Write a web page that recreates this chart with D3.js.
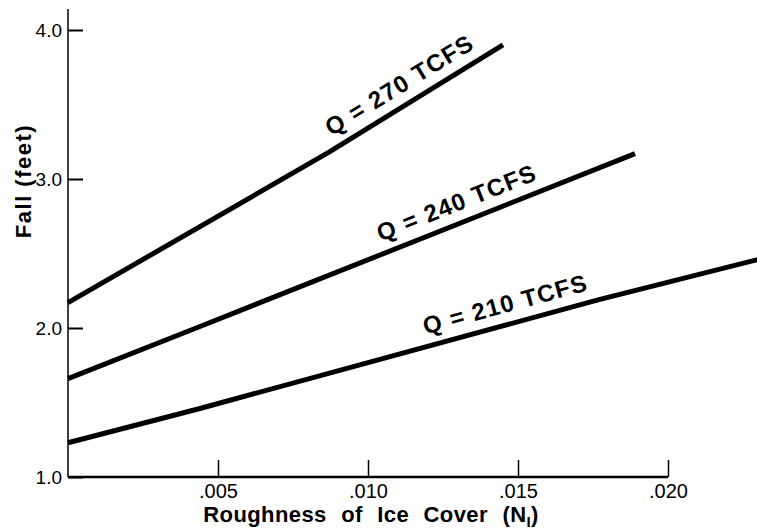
<!DOCTYPE html>
<html>
<head>
<meta charset="utf-8">
<script src="https://cdn.jsdelivr.net/npm/d3@7"></script>
<style>
  html, body { margin: 0; padding: 0; background: #fff; }
  svg { display: block; }
  text { font-family: "Liberation Sans", Arial, Helvetica, sans-serif; fill: #000; }
</style>
</head>
<body>
<script>
// ---- data ----
const seriesNames = ["Q = 270 TCFS", "Q = 240 TCFS", "Q = 210 TCFS"];
const roughness270 = [0, 0.0087, 0.0145];
const fall270      = [2.17, 3.18, 3.90];
const roughness240 = [0, 0.0044, 0.0189];
const fall240      = [1.66, 2.01, 3.17];
const roughness210 = [0, 0.0044, 0.0177, 0.0230];
const fall210      = [1.23, 1.46, 2.19, 2.46];
const labelAt      = [0.0114, 0.0132, 0.01475];   // roughness where each label sits
const xTickValues  = [0.005, 0.010, 0.015, 0.020];
const xTickLabels  = [".005", ".010", ".015", ".020"];
const yTickValues  = [1, 2, 3, 4];
const yTickLabels  = ["1.0", "2.0", "3.0", "4.0"];

const W = 757, H = 532;
const svg = d3.select("body").append("svg").attr("width", W).attr("height", H);

const x = d3.scaleLinear().domain([0, 0.023]).range([68, 758]);
const y = d3.scaleLinear().domain([1, 4]).range([477, 30]);

const series = [
  roughness270.map((n, i) => ({ n, f: fall270[i] })),
  roughness240.map((n, i) => ({ n, f: fall240[i] })),
  roughness210.map((n, i) => ({ n, f: fall210[i] }))
];

// ---- axes ----
const yAxis = d3.axisLeft(y)
  .tickValues(yTickValues)
  .tickFormat((d, i) => yTickLabels[i])
  .tickSizeInner(-15).tickSizeOuter(0).tickPadding(6);
const gy = svg.append("g").attr("transform", `translate(${x(0)},0)`).call(yAxis);
gy.select(".domain").remove();
gy.selectAll(".tick line").attr("stroke", "#000").attr("stroke-width", 2);
gy.selectAll(".tick text").style("font-size", "19px").attr("font-family", null);

const xAxis = d3.axisBottom(x)
  .tickValues(xTickValues)
  .tickFormat((d, i) => xTickLabels[i])
  .tickSizeInner(-17).tickSizeOuter(0).tickPadding(7);
const gx = svg.append("g").attr("transform", `translate(0,${y(1)})`).call(xAxis);
gx.select(".domain").remove();
gx.selectAll(".tick line").attr("stroke", "#000").attr("stroke-width", 1.5);
gx.selectAll(".tick text").style("font-size", "20px").attr("font-family", null);

// axis lines
svg.append("line").attr("x1", x(0)).attr("x2", x(0)).attr("y1", 9).attr("y2", y(1))
  .attr("stroke", "#000").attr("stroke-width", 1.5);
svg.append("line").attr("x1", x(0)).attr("x2", x(0.020)).attr("y1", y(1)).attr("y2", y(1))
  .attr("stroke", "#000").attr("stroke-width", 2.5);

// ---- lines ----
const line = d3.line().x(d => x(d.n)).y(d => y(d.f));
svg.append("g").selectAll("path").data(series).join("path")
  .attr("d", line)
  .attr("fill", "none")
  .attr("stroke", "#000")
  .attr("stroke-width", 5)
  .attr("stroke-linecap", "butt")
  .attr("stroke-linejoin", "round");

// ---- labels along lines ----
function pointAt(s, n) {
  for (let i = 0; i < s.length - 1; i++) {
    if (n >= s[i].n && n <= s[i + 1].n) {
      const t = (n - s[i].n) / (s[i + 1].n - s[i].n);
      const px = x(n), py = y(s[i].f + t * (s[i + 1].f - s[i].f));
      const ang = Math.atan2(y(s[i + 1].f) - y(s[i].f), x(s[i + 1].n) - x(s[i].n));
      return { px, py, ang };
    }
  }
  return null;
}
const offset = 12;
series.forEach((s, k) => {
  const p = pointAt(s, labelAt[k]);
  const deg = p.ang * 180 / Math.PI;
  const ox = p.px + Math.sin(p.ang) * offset;
  const oy = p.py - Math.cos(p.ang) * offset;
  svg.append("text")
    .attr("transform", `translate(${ox},${oy}) rotate(${deg})`)
    .attr("text-anchor", "middle")
    .style("font-size", "24px").style("font-weight", "bold").style("letter-spacing", "1.2px")
    .text(seriesNames[k]);
});

// ---- axis titles ----
const xt = svg.append("text")
  .attr("x", x(0.0101)).attr("y", 522)
  .attr("text-anchor", "middle")
  .style("font-size", "22px").style("font-weight", "bold")
  .style("word-spacing", "8px").style("letter-spacing", "0.4px");
xt.append("tspan").text("Roughness of Ice Cover (N");
xt.append("tspan").attr("dy", 5).style("font-size", "15px").text("I");
xt.append("tspan").attr("dy", -5).text(")");

svg.append("text")
  .attr("transform", `translate(31,${181}) rotate(-90)`)
  .attr("text-anchor", "middle")
  .style("font-size", "22px").style("font-weight", "bold").style("letter-spacing", "1.5px")
  .text("Fall (feet)");
</script>
</body>
</html>
